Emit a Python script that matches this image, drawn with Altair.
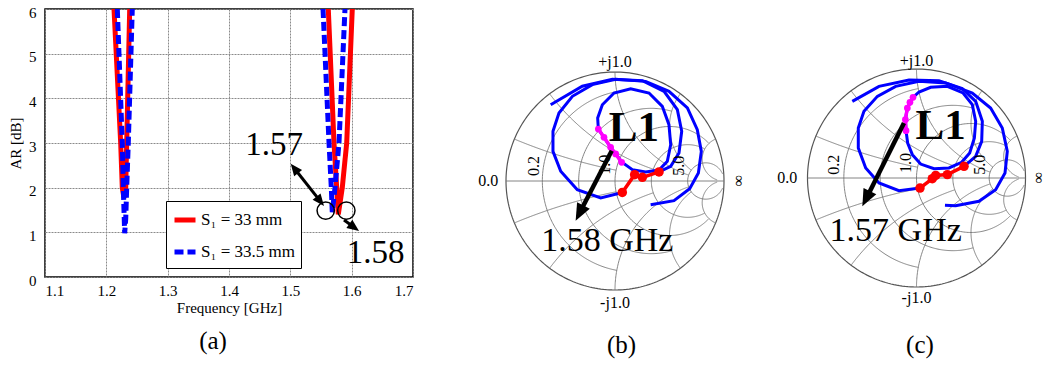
import math
import altair as alt
import pandas as pd

SERIF = "'Liberation Serif', 'Times New Roman', 'DejaVu Serif', serif"
HEAD = "M0,0L0.42,1L-0.42,1Z"

# ---------------- panel (a): axial ratio vs frequency ----------------
SERIES = ["S\u2081 = 33 mm", "S\u2081 = 33.5 mm"]
red_dip1_f = [1.2125, 1.2234, 1.2260, 1.2288, 1.2316, 1.2332, 1.2381]
red_dip1_ar = [6.0, 3.0, 2.0, 1.77, 2.0, 3.0, 6.0]
red_dip2_f = [1.5619, 1.5712, 1.5756, 1.5782, 1.5847, 1.5919, 1.6010]
red_dip2_ar = [6.0, 3.0, 2.0, 1.40, 2.0, 3.0, 6.0]
blue_dip1_f = [1.2179, 1.2260, 1.2277, 1.2299, 1.2316, 1.2332, 1.2358, 1.2423]
blue_dip1_ar = [6.0, 3.0, 2.0, 0.98, 1.3, 2.0, 3.0, 6.0]
blue_dip2_f = [1.5533, 1.5631, 1.5668, 1.5684, 1.5728, 1.5793, 1.5891]
blue_dip2_ar = [6.0, 3.0, 2.0, 1.45, 2.0, 3.0, 6.0]

x_ticks = [1.1, 1.2, 1.3, 1.4, 1.5, 1.6, 1.7]
y_ticks = [0, 1, 2, 3, 4, 5, 6]

ann_text = ["1.57", "1.58"]
ann_f = [1.4734, 1.639]
ann_ar = [2.96, 0.537]
circ_f = [1.5577, 1.5913]
circ_ar = [1.488, 1.488]
# arrows: start f, start ar, tip f, tip ar, double headed
arrows_a = [(1.5006, 2.537, 1.5549, 1.590, True), (1.5875, 1.276, 1.612, 1.03, False)]
caption_a = ("(a)", 1.374, -1.43)

# ---------------- panels (b), (c): Smith charts (reflection coefficient u, v) ----------------
b_blue1_u = [-0.590, -0.300, -0.024, 0.251, 0.450, 0.572, 0.612, 0.587, 0.511, 0.404]
b_blue1_v = [0.700, 0.869, 0.933, 0.920, 0.823, 0.654, 0.456, 0.257, 0.135, 0.083]
b_loop_u = [0.067, -0.131, -0.346, -0.498, -0.569, -0.569, -0.514, -0.391, -0.208, 0.006, 0.281,
            0.495, 0.664, 0.755, 0.792, 0.765, 0.685, 0.541, 0.327]
b_loop_v = [-0.105, -0.156, -0.080, 0.089, 0.272, 0.456, 0.624, 0.777, 0.884, 0.933, 0.914,
            0.823, 0.670, 0.471, 0.272, 0.073, -0.070, -0.180, -0.217]
b_inner_u = [-0.153, -0.159, -0.116, -0.009, 0.144, 0.312, 0.434, 0.495, 0.511, 0.480, 0.404,
             0.281, 0.159, 0.067, -0.040, -0.153]
b_inner_v = [0.477, 0.578, 0.700, 0.807, 0.847, 0.807, 0.685, 0.517, 0.333, 0.180, 0.101,
             0.083, 0.104, 0.171, 0.309, 0.477]
b_red_u = [0.404, 0.251, 0.180, 0.067]
b_red_v = [0.083, 0.034, 0.058, -0.105]
b_mag_u = [-0.153, -0.101, -0.040, 0.006, 0.061]
b_mag_v = [0.477, 0.401, 0.309, 0.248, 0.171]
b_arrow = (-0.030, 0.278, -0.361, -0.364)
b_texts = [("L1", 0.174, 0.486), ("1.58 GHz", -0.071, -0.553)]
b_labels = [("0.0", -1.162, 0.0, 0), ("0.2", -0.743, 0.138, 270), ("1.0", -0.092, 0.150, 270),
            ("5.0", 0.587, 0.140, 270), ("\u221e", 1.138, 0.0, 90), ("+j1.0", 0.0, 1.092, 0),
            ("-j1.0", 0.0, -1.119, 0)]
b_caption = ("(b)", 0.06, -1.505)

c_blue1_u = [-0.589, -0.344, -0.069, 0.206, 0.420, 0.543, 0.604, 0.598, 0.543, 0.436]
c_blue1_v = [0.703, 0.841, 0.899, 0.893, 0.820, 0.703, 0.520, 0.336, 0.199, 0.107]
c_loop_u = [0.032, -0.161, -0.344, -0.466, -0.534, -0.534, -0.482, -0.359, -0.191, 0.023, 0.268,
            0.512, 0.680, 0.787, 0.833, 0.812, 0.726, 0.573, 0.359, 0.261]
c_loop_v = [-0.092, -0.116, -0.046, 0.092, 0.275, 0.459, 0.612, 0.749, 0.841, 0.887, 0.872,
            0.780, 0.642, 0.459, 0.245, 0.046, -0.107, -0.214, -0.254, -0.251]
c_inner_u = [-0.032, -0.084, -0.102, -0.096, -0.081, -0.038, 0.038, 0.161, 0.298, 0.414, 0.488,
             0.531, 0.543, 0.512, 0.427, 0.283, 0.130, 0.023, -0.032]
c_inner_v = [0.740, 0.642, 0.535, 0.434, 0.321, 0.214, 0.128, 0.086, 0.092, 0.144, 0.229,
             0.367, 0.520, 0.673, 0.780, 0.841, 0.832, 0.789, 0.740]
c_red_u = [0.436, 0.283, 0.176, 0.145, 0.032]
c_red_v = [0.107, 0.031, 0.024, -0.006, -0.092]
c_mag_u = [-0.032, -0.060, -0.084, -0.102, -0.096]
c_mag_v = [0.740, 0.694, 0.642, 0.535, 0.434]
c_arrow = (-0.115, 0.505, -0.497, -0.260)
c_texts = [("L1", 0.222, 0.474), ("1.57 GHz", -0.191, -0.489)]
c_labels = [("0.0", -1.185, 0.0, 0), ("0.2", -0.757, 0.122, 270), ("1.0", -0.099, 0.138, 270),
            ("5.0", 0.580, 0.122, 270), ("\u221e", 1.12, 0.0, 90), ("+j1.0", 0.0, 1.07, 0),
            ("-j1.0", 0.0, -1.10, 0)]
c_caption = ("(c)", 0.032, -1.532)

# Smith grid definition (resistance circles / reactance arcs and their limits)
R_CIRCLES = [0.2, 0.5, 1.0, 2.0, 5.0]
R_LIMITS = [1.0, 2.0, 5.0, 5.0, 30.0]
X_ARCS = [0.2, 0.5, 1.0, 2.0, 5.0]
X_LIMITS = [1.0, 2.0, 5.0, 5.0, 30.0]

# ---------------- layout (pixels) ----------------
A_W, A_H = 368, 268
B_W, C_W = 340, 293
PANEL_H = 268
K = 109.0  # pixels per unit reflection coefficient
B_CENTER = (616.0, 183.0)
C_CENTER = (917.5, 180.0)
A_LEFT, A_TOP = 46.0, 11.0


def arrow_parts(x0, y0, x1, y1, kx, ky, head_len, both, aid):
    dxp = (x1 - x0) * kx
    dyp = -(y1 - y0) * ky
    length = math.hypot(dxp, dyp)
    ux, uy = dxp / length, dyp / length
    back = head_len * 0.8
    ex, ey = x1 - ux * back / kx, y1 + uy * back / ky
    sx, sy = x0, y0
    heads = [(x1, y1, math.degrees(math.atan2(dxp, -dyp)) % 360)]
    if both:
        sx, sy = x0 + ux * back / kx, y0 - uy * back / ky
        heads.append((x0, y0, math.degrees(math.atan2(-dxp, dyp)) % 360))
    shaft = [(sx, sy, aid, 0), (ex, ey, aid, 1)]
    return shaft, heads


# ================= panel (a) =================
rows = []
for name, segs in [(SERIES[0], [(red_dip1_f, red_dip1_ar), (red_dip2_f, red_dip2_ar)]),
                   (SERIES[1], [(blue_dip1_f, blue_dip1_ar), (blue_dip2_f, blue_dip2_ar)])]:
    for si, (fs, ars) in enumerate(segs):
        for f, a in zip(fs, ars):
            rows.append({"f": f, "ar": a, "series": name, "seg": f"{name}-{si}"})
df_a = pd.DataFrame(rows)

X_A = alt.X("f:Q", scale=alt.Scale(domain=[1.1, 1.7], nice=False, zero=False),
            axis=alt.Axis(values=x_ticks, format=".1f", title="Frequency [GHz]",
                          labelFont=SERIF, labelFontSize=15, labelColor="black",
                          titleFont=SERIF, titleFontSize=15, titleFontWeight="normal",
                          titleColor="black", titlePadding=2, labelPadding=6,
                          grid=True, gridColor="#8a8a8a", gridDash=[2, 1], gridWidth=1,
                          ticks=False, domain=False))
Y_A = alt.Y("ar:Q", scale=alt.Scale(domain=[0, 6], nice=False, zero=False),
            axis=alt.Axis(values=y_ticks, format="d", title="AR [dB]",
                          labelFont=SERIF, labelFontSize=15, labelColor="black",
                          titleFont=SERIF, titleFontSize=15, titleFontWeight="normal",
                          titleColor="black", titlePadding=5, labelPadding=9, labelOffset=3,
                          grid=True, gridColor="#8a8a8a", gridDash=[2, 1], gridWidth=1,
                          ticks=False, domain=False))

legend = alt.Legend(orient="none", legendX=121, legendY=192, title=None, symbolType="stroke",
                    symbolSize=441, symbolStrokeWidth=5, labelFont=SERIF, labelFontSize=17,
                    labelColor="black", strokeColor="black", fillColor="white", padding=6,
                    rowPadding=9, labelOffset=3, cornerRadius=0)
COLOR = alt.Color("series:N", scale=alt.Scale(domain=SERIES, range=["#ff0000", "#0000ff"]), legend=legend)
DASH = alt.StrokeDash("series:N", scale=alt.Scale(domain=SERIES, range=[[1, 0], [9, 4]]), legend=legend)

red_layer = alt.Chart(df_a[df_a.series == SERIES[0]]).mark_line(strokeWidth=5, clip=True).encode(
    x=X_A, y=Y_A, color=COLOR, strokeDash=DASH, detail="seg:N")
blue_layer = alt.Chart(df_a[df_a.series == SERIES[1]]).mark_line(strokeWidth=5, clip=True).encode(
    x=X_A, y=Y_A, color=COLOR, strokeDash=DASH, detail="seg:N")

ann_df = pd.DataFrame({"f": ann_f, "ar": ann_ar, "t": ann_text})
ann_layer = alt.Chart(ann_df).mark_text(font=SERIF, fontSize=33, color="black").encode(
    x=X_A, y=Y_A, text="t:N")
circ_df = pd.DataFrame({"f": circ_f, "ar": circ_ar})
circ_layer = alt.Chart(circ_df).mark_point(shape="circle", filled=False, size=300, color="black",
                                           strokeWidth=1.5, opacity=1).encode(x=X_A, y=Y_A)
shaft_rows, head_rows = [], []
for ai, (x0, y0, x1, y1, both) in enumerate(arrows_a):
    s, h = arrow_parts(x0, y0, x1, y1, A_W / 0.6, A_H / 6.0, 12, both, f"a{ai}")
    shaft_rows += [{"f": p[0], "ar": p[1], "id": p[2], "i": p[3]} for p in s]
    head_rows += [{"f": p[0], "ar": p[1], "ang": p[2]} for p in h]
shaft_layer = alt.Chart(pd.DataFrame(shaft_rows)).mark_line(color="black", strokeWidth=3).encode(
    x=X_A, y=Y_A, detail="id:N", order="i:Q")
head_layer = alt.Chart(pd.DataFrame(head_rows)).mark_point(
    shape=HEAD, filled=True, color="black", size=576, opacity=1, strokeWidth=0).encode(
    x=X_A, y=Y_A, angle=alt.Angle("ang:Q", scale=None))
cap_layer = alt.Chart(pd.DataFrame({"f": [caption_a[1]], "ar": [caption_a[2]], "t": [caption_a[0]]})).mark_text(
    font=SERIF, fontSize=25, color="black").encode(x=X_A, y=Y_A, text="t:N")

panel_a = alt.layer(red_layer, blue_layer, shaft_layer, head_layer, circ_layer, ann_layer, cap_layer).properties(
    width=A_W, height=A_H, view=alt.ViewBackground(stroke="black", strokeWidth=1.5))


# ================= Smith panels =================
def smith_grid():
    out = []
    gid = [0]

    def add(points, col, sw):
        for i, (u, v) in enumerate(points):
            out.append({"u": u, "v": v, "id": f"g{gid[0]}", "i": i, "col": col, "sw": sw})
        gid[0] += 1

    add([(math.cos(2 * math.pi * k / 240), math.sin(2 * math.pi * k / 240)) for k in range(241)], "#555555", 1.2)
    add([(-1.0, 0.0), (1.0, 0.0)], "#777777", 0.9)
    for r, X in zip(R_CIRCLES, R_LIMITS):
        pts = []
        n = 200
        for k in range(n + 1):
            z = complex(r, -X + 2 * X * k / n)
            g = (z - 1) / (z + 1)
            pts.append((g.real, g.imag))
        add(pts, "#777777", 0.9)
    for x, R in zip(X_ARCS, X_LIMITS):
        for s in (1, -1):
            pts = []
            n = 150
            for k in range(n + 1):
                z = complex(R * (k / n) ** 1.5, s * x)
                g = (z - 1) / (z + 1)
                pts.append((g.real, g.imag))
            add(pts, "#777777", 0.9)
    return pd.DataFrame(out)


def path_rows(paths):
    out = []
    for pi, (us, vs) in enumerate(paths):
        for i, (u, v) in enumerate(zip(us, vs)):
            out.append({"u": u, "v": v, "id": f"p{pi}", "i": i})
    return pd.DataFrame(out)


def smith_panel(width, center, left_px, blue_paths, red_u, red_v, mag_u, mag_v, arrow, texts, labels, caption):
    cx, cy = center
    xdom = [(left_px - cx) / K, (left_px + width - cx) / K]
    ydom = [(cy - (A_TOP + PANEL_H)) / K, (cy - A_TOP) / K]
    XS = alt.X("u:Q", scale=alt.Scale(domain=xdom, nice=False, zero=False), axis=None)
    YS = alt.Y("v:Q", scale=alt.Scale(domain=ydom, nice=False, zero=False), axis=None)

    grid = alt.Chart(smith_grid()).mark_line().encode(
        x=XS, y=YS, detail="id:N", order="i:Q",
        color=alt.Color("col:N", scale=None), strokeWidth=alt.StrokeWidth("sw:Q", scale=None))
    blue = alt.Chart(path_rows(blue_paths)).mark_line(color="#0000ff", strokeWidth=3).encode(
        x=XS, y=YS, detail="id:N", order="i:Q")
    red_df = path_rows([(red_u, red_v)])
    red_line = alt.Chart(red_df).mark_line(color="#ff0000", strokeWidth=3.5).encode(x=XS, y=YS, order="i:Q")
    red_pts = alt.Chart(red_df).mark_circle(color="#ff0000", size=90, opacity=1).encode(x=XS, y=YS)
    mag_df = path_rows([(mag_u, mag_v)])
    mag_line = alt.Chart(mag_df).mark_line(color="#ff00ff", strokeWidth=3.5).encode(x=XS, y=YS, order="i:Q")
    mag_pts = alt.Chart(mag_df).mark_circle(color="#ff00ff", size=45, opacity=1).encode(x=XS, y=YS)
    s, h = arrow_parts(arrow[0], arrow[1], arrow[2], arrow[3], K, K, 17, False, "ar")
    shaft = alt.Chart(pd.DataFrame([{"u": p[0], "v": p[1], "id": p[2], "i": p[3]} for p in s])).mark_line(
        color="black", strokeWidth=4.5).encode(x=XS, y=YS, order="i:Q")
    head = alt.Chart(pd.DataFrame([{"u": p[0], "v": p[1], "ang": p[2]} for p in h])).mark_point(
        shape=HEAD, filled=True, color="black", size=1156, opacity=1, strokeWidth=0).encode(
        x=XS, y=YS, angle=alt.Angle("ang:Q", scale=None))
    l1 = alt.Chart(pd.DataFrame([{"u": texts[0][1], "v": texts[0][2], "t": texts[0][0]}])).mark_text(
        font=SERIF, fontSize=43, fontWeight="bold", color="black").encode(x=XS, y=YS, text="t:N")
    ghz = alt.Chart(pd.DataFrame([{"u": texts[1][1], "v": texts[1][2], "t": texts[1][0]}])).mark_text(
        font=SERIF, fontSize=34, color="black").encode(x=XS, y=YS, text="t:N")
    lab = alt.Chart(pd.DataFrame([{"t": t, "u": u, "v": v, "ang": a} for t, u, v, a in labels])).mark_text(
        font=SERIF, fontSize=16, color="black").encode(
        x=XS, y=YS, text="t:N", angle=alt.Angle("ang:Q", scale=None))
    cap = alt.Chart(pd.DataFrame([{"t": caption[0], "u": caption[1], "v": caption[2]}])).mark_text(
        font=SERIF, fontSize=25, color="black").encode(x=XS, y=YS, text="t:N")
    return alt.layer(grid, blue, red_line, red_pts, mag_line, mag_pts, shaft, head, l1, ghz, lab, cap).properties(
        width=width, height=PANEL_H)


panel_b = smith_panel(B_W, B_CENTER, A_LEFT + A_W,
                      [(b_blue1_u, b_blue1_v), (b_loop_u, b_loop_v), (b_inner_u, b_inner_v)],
                      b_red_u, b_red_v, b_mag_u, b_mag_v, b_arrow, b_texts, b_labels, b_caption)
panel_c = smith_panel(C_W, C_CENTER, A_LEFT + A_W + B_W,
                      [(c_blue1_u, c_blue1_v), (c_loop_u, c_loop_v), (c_inner_u, c_inner_v)],
                      c_red_u, c_red_v, c_mag_u, c_mag_v, c_arrow, c_texts, c_labels, c_caption)

chart = alt.hconcat(panel_a, panel_b, panel_c, spacing=0, bounds="flush").properties(
    padding={"left": 7, "top": 4, "right": 0, "bottom": 0}, background="white"
).configure_view(stroke=None)

chart.save("out.html", embed_options={"renderer": "svg", "actions": False})
